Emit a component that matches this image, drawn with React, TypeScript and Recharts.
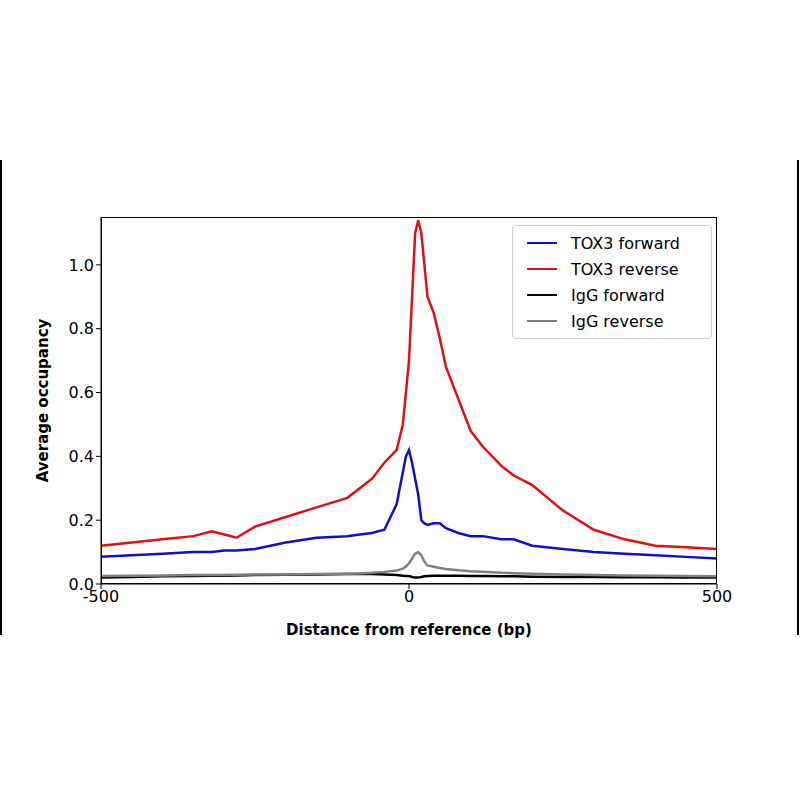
import { LineChart, Line, XAxis, YAxis } from "recharts";

const positions = [-500, -450, -400, -350, -320, -300, -280, -250, -200, -150, -100, -80, -60, -40, -20, -10, -5, 0, 5, 10, 15, 20, 25, 30, 40, 50, 60, 80, 100, 120, 150, 170, 200, 250, 300, 350, 400, 450, 500];
const tox3Forward = [0.085, 0.09, 0.095, 0.1, 0.1, 0.105, 0.105, 0.11, 0.13, 0.145, 0.15, 0.155, 0.16, 0.17, 0.25, 0.35, 0.4, 0.42, 0.38, 0.33, 0.28, 0.2, 0.19, 0.185, 0.19, 0.19, 0.175, 0.16, 0.15, 0.15, 0.14, 0.14, 0.12, 0.11, 0.1, 0.095, 0.09, 0.085, 0.08];
const tox3Reverse = [0.12, 0.13, 0.14, 0.15, 0.165, 0.155, 0.145, 0.18, 0.21, 0.24, 0.27, 0.3, 0.33, 0.38, 0.42, 0.5, 0.6, 0.7, 0.9, 1.1, 1.14, 1.1, 1.0, 0.9, 0.85, 0.77, 0.68, 0.58, 0.48, 0.43, 0.37, 0.34, 0.31, 0.23, 0.17, 0.14, 0.12, 0.115, 0.11];
const iggForward = [0.02, 0.022, 0.024, 0.025, 0.026, 0.026, 0.027, 0.028, 0.029, 0.03, 0.031, 0.031, 0.031, 0.03, 0.028, 0.026, 0.025, 0.025, 0.022, 0.02, 0.02, 0.022, 0.024, 0.025, 0.026, 0.026, 0.026, 0.026, 0.025, 0.025, 0.024, 0.024, 0.023, 0.022, 0.022, 0.021, 0.021, 0.02, 0.02];
const iggReverse = [0.025, 0.026, 0.027, 0.028, 0.028, 0.028, 0.029, 0.03, 0.03, 0.031, 0.032, 0.033, 0.035, 0.038, 0.042, 0.048, 0.055, 0.065, 0.08, 0.095, 0.1, 0.09, 0.07, 0.058, 0.054, 0.05, 0.047, 0.043, 0.04, 0.038, 0.035, 0.034, 0.032, 0.03, 0.028, 0.027, 0.026, 0.025, 0.024];
const yTicks = [0, 0.2, 0.4, 0.6, 0.8, 1.0];
const xTicks = [-500, 0, 500];

const series = [
  { key: "tf", name: "TOX3 forward", color: "#1010c8" },
  { key: "tr", name: "TOX3 reverse", color: "#e01010" },
  { key: "gf", name: "IgG forward", color: "#000000" },
  { key: "gr", name: "IgG reverse", color: "#808080" },
];

const data = positions.map((x, i) => ({
  x, tf: tox3Forward[i], tr: tox3Reverse[i], gf: iggForward[i], gr: iggReverse[i],
}));

const font = "DejaVu Sans, sans-serif";
const tick = { fill: "#000", fontSize: 16, fontFamily: font };

export default function App() {
  return (
    <div style={{ position: "absolute", left: 0, top: 0, width: 800, height: 800, background: "#fff" }}>
      <div style={{ position: "absolute", left: 0, top: 160, width: 2, height: 475, background: "#000" }} />
      <div style={{ position: "absolute", left: 797, top: 160, width: 2, height: 475, background: "#000" }} />
      <LineChart width={800} height={800} data={data} margin={{ top: 217, right: 83, bottom: 186, left: 41 }}>
        <XAxis dataKey="x" type="number" domain={[-500, 500]} ticks={xTicks} allowDataOverflow
          tick={tick} tickSize={5} stroke="#000" height={30}
          label={{ value: "Distance from reference (bp)", position: "insideBottom", offset: -21, style: { fontFamily: font, fontWeight: "bold", fontSize: 15, fill: "#000" } }} />
        <YAxis type="number" domain={[0, 1.15]} ticks={yTicks} allowDataOverflow width={60}
          tickFormatter={(v: number) => v.toFixed(1)} tick={tick} tickSize={5} stroke="#000"
          label={{ value: "Average occupancy", angle: -90, position: "insideLeft", offset: 2, style: { fontFamily: font, fontWeight: "bold", fontSize: 15, fill: "#000", textAnchor: "middle" } }} />
        {series.map((s) => (
          <Line key={s.key} dataKey={s.key} type="linear" stroke={s.color} strokeWidth={2.5} dot={false} isAnimationActive={false} />
        ))}
      </LineChart>
      <div style={{ position: "absolute", left: 101, top: 217, width: 616, height: 367, border: "1px solid #000", boxSizing: "border-box", pointerEvents: "none" }} />
      <div style={{ position: "absolute", left: 512, top: 225, width: 198, padding: "4px 0", border: "1px solid #ccc", borderRadius: 4, background: "rgba(255,255,255,0.85)", fontFamily: font, fontSize: 16 }}>
        {series.map((s) => (
          <div key={s.key} style={{ display: "flex", alignItems: "center", height: 26 }}>
            <div style={{ width: 30, height: 2.5, background: s.color, marginLeft: 14, marginRight: 14 }} />
            <span>{s.name}</span>
          </div>
        ))}
      </div>
    </div>
  );
}
